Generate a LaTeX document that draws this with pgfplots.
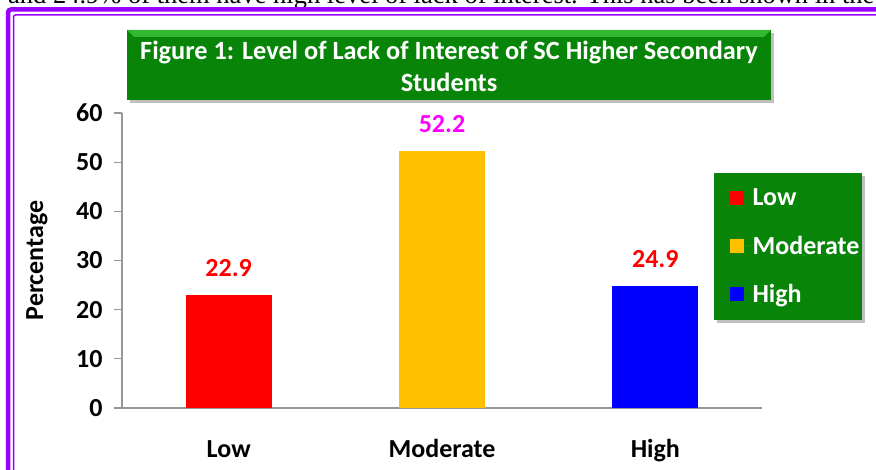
\documentclass[border=0pt]{standalone}
\usepackage{pgfplots}
\pgfplotsset{compat=1.18}
\usepackage{fontspec}
\setmainfont{Carlito}
\newfontfamily\seriffont{Liberation Serif}
\definecolor{framec}{RGB}{153,0,255}
\definecolor{boxgreen}{RGB}{8,133,8}
\definecolor{boxlight}{RGB}{50,185,50}
\definecolor{labmag}{RGB}{255,0,255}
\definecolor{axgray}{RGB}{150,150,150}
\definecolor{barred}{RGB}{255,0,0}
\definecolor{baryellow}{RGB}{255,192,0}
\definecolor{barblue}{RGB}{0,0,255}
\begin{document}
\begin{tikzpicture}[x=1pt,y=1pt]
\useasboundingbox (0,0) rectangle (876,470);
\begin{scope}
\clip (0,0) rectangle (876,470);
\node[anchor=base west, font=\seriffont\fontsize{26.5}{26.5}\selectfont, inner sep=0] at (8,466.5) {and 24.9\% of them have high level of lack of interest. This has been shown in the};
\draw[framec, line width=4.5, rounded corners=3] (8,-20) -- (8,460.5) -- (900,460.5);
\draw[framec, line width=1.5, rounded corners=2] (13.5,-20) -- (13.5,455) -- (900,455);
% title box
\fill[black, opacity=0.25] (130,367) rectangle (774,437);
\fill[boxgreen] (127,370) rectangle (771,440);
\fill[boxlight] (127,440) -- (771,440) -- (764,433) -- (134,433) -- cycle;
\node[font=\bfseries\fontsize{26.3}{32}\selectfont, text=white, align=center] at (449,404) {Figure 1: Level of Lack of Interest of SC Higher Secondary\\Students};
% legend box
\fill[black, opacity=0.25] (717,147) rectangle (865,294);
\fill[boxgreen] (714,150) rectangle (862,297);
\end{scope}
\begin{axis}[
  at={(122pt,62pt)}, anchor=south west,
  scale only axis, width=640pt, height=295pt,
  xmin=-0.5, xmax=2.5, ymin=0, ymax=60,
  ytick={0,10,...,60},
  xtick={0,1,2}, xticklabels={Low,Moderate,High},
  major x tick style={draw=none},
  extra x ticks={-0.5,0.5,1.5,2.5}, extra x tick labels={},
  extra x tick style={tick style={axgray, line width=1.2pt}},
  axis x line*=bottom, axis y line*=left,
  axis line style={axgray, line width=1.5pt, -},
  tick style={axgray, line width=1.2pt},
  tick align=outside, major tick length=8pt,
  /pgf/number format/assume math mode=true,
  ticklabel style={font=\bfseries\fontsize{26}{26}\selectfont, text=black},
  yticklabel style={anchor=east, xshift=-8pt},
  xticklabel style={anchor=base, yshift=-42pt},
  ylabel={Percentage},
  ylabel style={at={(axis description cs:-0.133,0.5)}, anchor=center, font=\bfseries\fontsize{26}{26}\selectfont},
  ybar, bar width=86pt,
  nodes near coords,
  every node near coord/.append style={font=\bfseries\fontsize{26}{26}\selectfont, anchor=center, yshift=27pt},
  legend style={at={(1.0492,0.5475)}, anchor=center, draw=none, fill=none,
    font=\bfseries\fontsize{26}{26}\selectfont, text=white, row sep=24.5pt},
  legend cell align=left,
  legend image code/.code={\path (0pt,0pt) -- (25pt,0pt); \fill[#1, draw=none] (4pt,-7pt) rectangle (18pt,7pt);},
  clip=false,
]
\addplot[fill=barred, draw=none, bar shift=0pt, every node near coord/.append style={text=barred}] coordinates {(0,22.9)};
\addplot[fill=baryellow, draw=none, bar shift=0pt, every node near coord/.append style={text=labmag}] coordinates {(1,52.2)};
\addplot[fill=barblue, draw=none, bar shift=0pt, every node near coord/.append style={text=barred}] coordinates {(2,24.9)};
\legend{Low,Moderate,High}
\end{axis}
\end{tikzpicture}
\end{document}
